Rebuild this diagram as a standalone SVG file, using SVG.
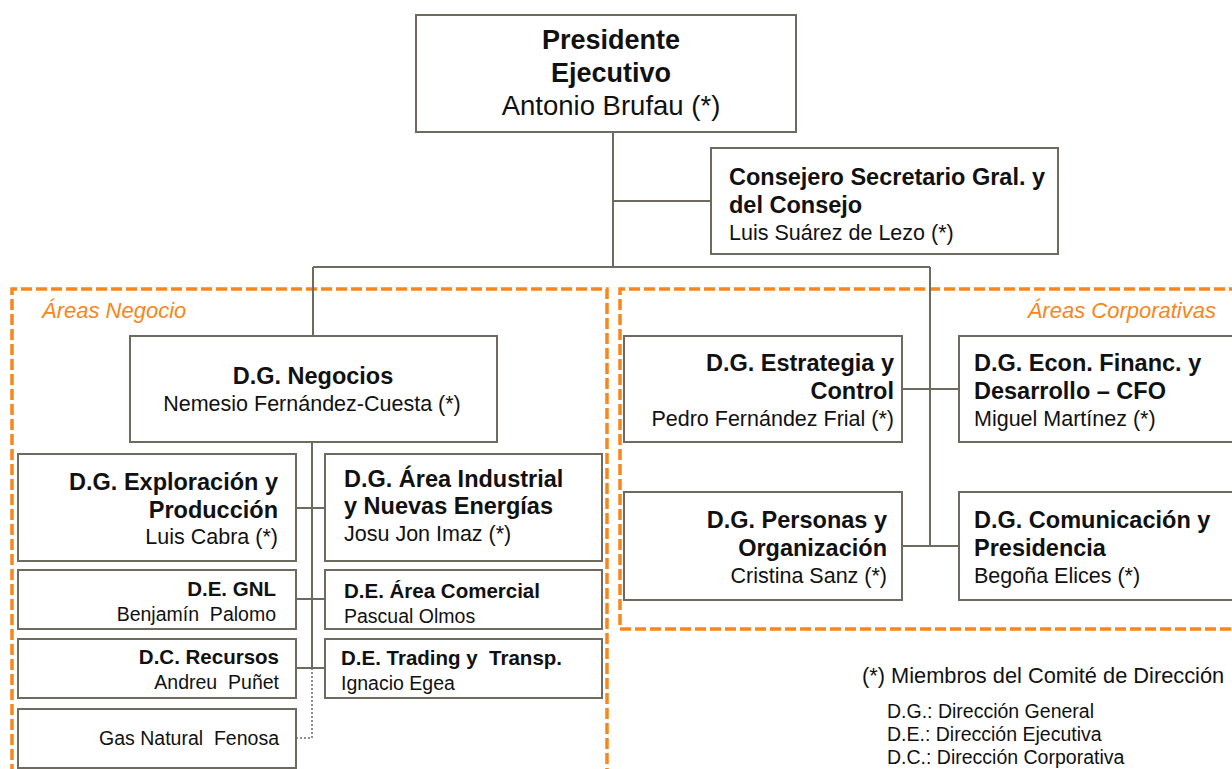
<svg xmlns="http://www.w3.org/2000/svg" width="1232" height="769" viewBox="0 0 1232 769">
<style>
.box{fill:#fff;stroke:#6f6a60;stroke-width:2}
.ln{fill:none;stroke:#6f6a60;stroke-width:2}
.dot{fill:none;stroke:#6f6a60;stroke-width:1.5;stroke-dasharray:2 2}
.area{fill:none;stroke:#f8861a;stroke-width:3.5;stroke-dasharray:11 4}
text{font-family:"Liberation Sans",Arial,sans-serif;fill:#111}
.b{font-weight:bold;font-size:23.5px}
.r{font-size:21.5px}
.bs{font-weight:bold;font-size:20.5px}
.rs{font-size:19.5px}
.lbl{font-style:italic;font-size:22px;fill:#f8861a}
.e{text-anchor:end}
.m{text-anchor:middle}
.lg{font-size:19.5px}
</style>
<g id="areas">
<path class="area" d="M12,775 V289 H607 V775"/>
<path class="area" d="M1240,289 H620 V629 H1240"/>
<text class="lbl" x="42" y="318">Áreas Negocio</text>
<text class="lbl e" x="1216" y="318">Áreas Corporativas</text>
</g>
<g id="connectors">
<path class="ln" d="M613,132 V267 M613,201 H711 M313,267 H930 M313,267 V336 M930,267 V546 M902,389 H959 M902,546 H959"/>
<path class="ln" d="M312,442 V668 M296,508 H325 M296,599 H325 M296,668 H325"/>
<path class="dot" d="M312,668 V738 H296"/>
</g>
<g id="presidente">
<rect class="box" x="416" y="15" width="380" height="117"/>
<text class="m" x="611" y="49" style="font-weight:bold;font-size:27px">Presidente</text>
<text class="m" x="611" y="82" style="font-weight:bold;font-size:27px">Ejecutivo</text>
<text class="m" x="611" y="115" style="font-size:27.5px">Antonio Brufau (*)</text>
</g>
<g id="consejero">
<rect class="box" x="711" y="148" width="347" height="106"/>
<text class="b" x="729" y="185">Consejero Secretario Gral. y</text>
<text class="b" x="729" y="213">del Consejo</text>
<text class="r" x="729" y="240">Luis Suárez de Lezo (*)</text>
</g>
<g id="negocios">
<rect class="box" x="130" y="336" width="367" height="106"/>
<text class="b m" x="313" y="384">D.G. Negocios</text>
<text class="r m" x="312" y="411">Nemesio Fernández-Cuesta (*)</text>
</g>
<g id="exploracion">
<rect class="box" x="18" y="454" width="278" height="107"/>
<text class="b e" x="278" y="490">D.G. Exploración y</text>
<text class="b e" x="278" y="518">Producción</text>
<text class="r e" x="278" y="544">Luis Cabra (*)</text>
</g>
<g id="industrial">
<rect class="box" x="325" y="454" width="277" height="107"/>
<text class="b" x="344" y="487">D.G. Área Industrial</text>
<text class="b" x="344" y="514">y Nuevas Energías</text>
<text class="r" x="344" y="541">Josu Jon Imaz (*)</text>
</g>
<g id="gnl">
<rect class="box" x="18" y="570" width="278" height="59"/>
<text class="bs e" x="276" y="596">D.E. GNL</text>
<text class="rs e" x="276" y="621" xml:space="preserve">Benjamín  Palomo</text>
</g>
<g id="comercial">
<rect class="box" x="325" y="570" width="277" height="59"/>
<text class="bs" x="344" y="598">D.E. Área Comercial</text>
<text class="rs" x="344" y="623">Pascual Olmos</text>
</g>
<g id="recursos">
<rect class="box" x="18" y="639" width="278" height="59"/>
<text class="bs e" x="279" y="664">D.C. Recursos</text>
<text class="rs e" x="279" y="689" xml:space="preserve">Andreu  Puñet</text>
</g>
<g id="trading">
<rect class="box" x="325" y="639" width="277" height="59"/>
<text class="bs" x="341" y="665" xml:space="preserve">D.E. Trading y  Transp.</text>
<text class="rs" x="341" y="690">Ignacio Egea</text>
</g>
<g id="gasnatural">
<rect class="box" x="18" y="709" width="278" height="59"/>
<text class="rs e" x="279" y="745" xml:space="preserve">Gas Natural  Fenosa</text>
</g>
<g id="estrategia">
<rect class="box" x="624" y="336" width="278" height="106"/>
<text class="b e" x="894" y="371">D.G. Estrategia y</text>
<text class="b e" x="894" y="399">Control</text>
<text class="r e" x="894" y="426">Pedro Fernández Frial (*)</text>
</g>
<g id="cfo">
<rect class="box" x="959" y="336" width="290" height="106"/>
<text class="b" x="974" y="371">D.G. Econ. Financ. y</text>
<text class="b" x="974" y="399">Desarrollo – CFO</text>
<text class="r" x="974" y="426">Miguel Martínez (*)</text>
</g>
<g id="personas">
<rect class="box" x="624" y="492" width="278" height="108"/>
<text class="b e" x="887" y="528">D.G. Personas y</text>
<text class="b e" x="887" y="556">Organización</text>
<text class="r e" x="887" y="583">Cristina Sanz (*)</text>
</g>
<g id="comunicacion">
<rect class="box" x="959" y="492" width="290" height="108"/>
<text class="b" x="974" y="528">D.G. Comunicación y</text>
<text class="b" x="974" y="556">Presidencia</text>
<text class="r" x="974" y="583">Begoña Elices (*)</text>
</g>
<g id="legend">
<text x="862" y="683" style="font-size:21.8px">(*) Miembros del Comité de Dirección</text>
<text class="lg" x="887" y="718">D.G.: Dirección General</text>
<text class="lg" x="887" y="741">D.E.: Dirección Ejecutiva</text>
<text class="lg" x="887" y="764">D.C.: Dirección Corporativa</text>
</g>
</svg>
